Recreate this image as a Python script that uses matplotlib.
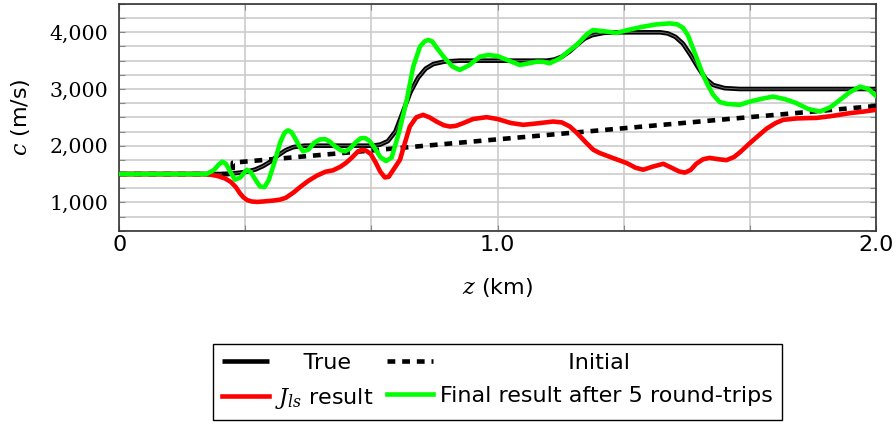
import numpy as np
import matplotlib
matplotlib.use("Agg")
from matplotlib import pyplot as plt
from matplotlib.ticker import MultipleLocator, FixedLocator, FuncFormatter

plt.rcParams['mathtext.fontset'] = 'dejavuserif'

# depth z (km) and velocity c (m/s)
true_z = [0, 0.28, 0.30, 0.32, 0.34, 0.36, 0.38, 0.40, 0.42, 0.44, 0.46, 0.49,
          0.67, 0.69, 0.71, 0.73, 0.75, 0.77, 0.79, 0.81, 0.83, 0.86, 0.90,
          1.13, 1.15, 1.17, 1.19, 1.21, 1.23, 1.25, 1.28, 1.31,
          1.43, 1.45, 1.47, 1.49, 1.51, 1.53, 1.55, 1.57, 1.60, 1.64, 2.0]
true_c = [1500, 1500, 1510, 1525, 1545, 1580, 1640, 1720, 1830, 1920, 1975, 2000,
          2000, 2020, 2080, 2250, 2600, 2950, 3200, 3360, 3440, 3485, 3500,
          3500, 3520, 3570, 3660, 3780, 3890, 3950, 3990, 4000,
          4000, 3980, 3920, 3800, 3600, 3380, 3180, 3070, 3015, 3000, 3000]

init_z = [0, 0.3, 0.3, 2.0]
init_c = [1500, 1500, 1700, 2700]

jls_z = [0, 0.22, 0.24, 0.26, 0.28, 0.295, 0.308, 0.319, 0.328, 0.338, 0.35, 0.365,
         0.38, 0.405, 0.425, 0.44, 0.46, 0.478, 0.50, 0.522, 0.545, 0.565, 0.585,
         0.60, 0.615, 0.628, 0.64, 0.652, 0.665, 0.678, 0.69, 0.702, 0.712, 0.725,
         0.742, 0.755, 0.768, 0.785, 0.803, 0.82, 0.84, 0.858, 0.874, 0.89, 0.91,
         0.935, 0.971, 1.0, 1.035, 1.068, 1.10, 1.147, 1.17, 1.191, 1.21, 1.235,
         1.253, 1.27, 1.305, 1.341, 1.365, 1.385, 1.41, 1.438, 1.46, 1.48, 1.495,
         1.51, 1.525, 1.543, 1.56, 1.585, 1.605, 1.625, 1.64, 1.667, 1.69, 1.711,
         1.735, 1.755, 1.79, 1.817, 1.843, 1.88, 1.931, 1.965, 2.0]
jls_c = [1500, 1500, 1490, 1465, 1420, 1360, 1270, 1160, 1090, 1040, 1015, 1008,
         1015, 1030, 1048, 1080, 1170, 1270, 1380, 1470, 1540, 1565, 1630,
         1700, 1790, 1880, 1925, 1915, 1850, 1700, 1540, 1440, 1450, 1580,
         1752, 2050, 2338, 2500, 2544, 2500, 2420, 2360, 2338, 2350, 2400,
         2470, 2503, 2470, 2400, 2368, 2390, 2426, 2410, 2338, 2222, 2046,
         1928, 1870, 1782, 1694, 1610, 1576, 1630, 1680, 1610, 1545, 1525,
         1570, 1680, 1760, 1785, 1760, 1745, 1800, 1880, 2046, 2180, 2300,
         2400, 2456, 2480, 2486, 2490, 2520, 2574, 2600, 2632]

final_z = [0, 0.23, 0.25, 0.262, 0.272, 0.282, 0.295, 0.306, 0.32, 0.337, 0.348,
           0.36, 0.372, 0.384, 0.395, 0.41, 0.425, 0.437, 0.446, 0.455, 0.465, 0.476,
           0.486, 0.50, 0.515, 0.53, 0.544, 0.557, 0.57, 0.585, 0.597, 0.61, 0.625,
           0.638, 0.65, 0.662, 0.675, 0.69, 0.705, 0.72, 0.74, 0.76, 0.777, 0.795,
           0.807, 0.817, 0.827, 0.84, 0.856, 0.88, 0.90, 0.925, 0.953, 0.975, 1.0,
           1.03, 1.059, 1.08, 1.103, 1.12, 1.138, 1.165, 1.19, 1.209, 1.235, 1.252,
           1.28, 1.314, 1.35, 1.384, 1.42, 1.455, 1.475, 1.49, 1.503, 1.516, 1.53,
           1.543, 1.557, 1.57, 1.587, 1.606, 1.64, 1.667, 1.70, 1.728, 1.76, 1.79,
           1.82, 1.852, 1.88, 1.905, 1.93, 1.958, 1.98, 2.0]
final_c = [1500, 1500, 1570, 1660, 1717, 1680, 1520, 1400, 1440, 1575, 1530,
           1400, 1280, 1270, 1390, 1700, 2050, 2230, 2270, 2240, 2130, 1990,
           1900, 1930, 2050, 2110, 2116, 2070, 1990, 1920, 1900, 1950, 2060,
           2130, 2134, 2080, 1960, 1800, 1730, 1790, 2250, 2808, 3394, 3750,
           3840, 3864, 3840, 3720, 3580, 3400, 3336, 3420, 3570, 3600, 3580,
           3500, 3424, 3450, 3482, 3480, 3454, 3540, 3680, 3776, 3960, 4040,
           4020, 3990, 4050, 4099, 4140, 4158, 4140, 4080, 3950, 3724, 3480,
           3248, 3050, 2896, 2770, 2738, 2720, 2778, 2830, 2866, 2820, 2750,
           2650, 2602, 2680, 2808, 2940, 3042, 3000, 2880]

fig = plt.figure(figsize=(8.96, 4.24), dpi=100)
ax = fig.add_axes([0.1331, 0.4559, 0.8445, 0.5347])

lw = 3.3
l_true, = ax.plot(true_z, true_c, color='black', lw=lw, solid_capstyle='butt', zorder=3)
ax.plot(true_z, true_c, color='#6a6a6a', lw=0.7, zorder=3.1)
l_init, = ax.plot(init_z, init_c, color='black', lw=lw, linestyle=(0, (1.7, 1.5)),
                  dash_capstyle='butt', zorder=3.2)
l_jls, = ax.plot(jls_z, jls_c, color='#ff0000', lw=lw, zorder=3.3)
l_fin, = ax.plot(final_z, final_c, color='#00ff00', lw=lw, zorder=3.4)

ax.set_xlim(0, 2)
ax.set_ylim(500, 4500)

ax.xaxis.set_major_locator(FixedLocator([0, 1, 2]))
ax.xaxis.set_minor_locator(MultipleLocator(1 / 3))
ax.xaxis.set_major_formatter(FuncFormatter(lambda v, p: '0' if v == 0 else f'{v:.1f}'))
ax.yaxis.set_major_locator(MultipleLocator(1000))
ax.yaxis.set_minor_locator(MultipleLocator(250))
ax.yaxis.set_major_formatter(FuncFormatter(lambda v, p: f'{int(v):,}'))

ax.grid(True, which='both', color='#cccccc', lw=1.2)
ax.set_axisbelow(True)
ax.tick_params(which='both', direction='in', top=True, right=True, color='#888888',
               length=4, width=0.8)
ax.tick_params(axis='x', labelsize=16, pad=3)
ax.tick_params(axis='y', labelsize=14.8, pad=8)
for t in ax.get_yticklabels():
    t.set_fontfamily('DejaVu Serif')
for s in ax.spines.values():
    s.set_color('#333333')
    s.set_linewidth(1.2)

ax.set_xlabel(r'$z$ (km)', fontsize=16)
ax.set_ylabel(r'$c$ (m/s)', fontsize=16)
ax.xaxis.set_label_coords(0.5, -0.2)
ax.yaxis.set_label_coords(-0.115, 0.5)

# leading spaces push the short labels toward the middle of their column
fig.legend([l_true, l_jls, l_init, l_fin],
           ['    True', r'$J_{ls}$ result', '                  Initial',
            'Final result after 5 round-trips'],
           loc='upper center', bbox_to_anchor=(0.5552, 1 - 344 / 424), ncol=2,
           fontsize=16, frameon=True, fancybox=False, edgecolor='black',
           framealpha=1, borderpad=0.4, handlelength=2.1, handletextpad=0.3,
           columnspacing=0.6, labelspacing=0.6, borderaxespad=0)

fig.savefig('out.png', dpi=100)
